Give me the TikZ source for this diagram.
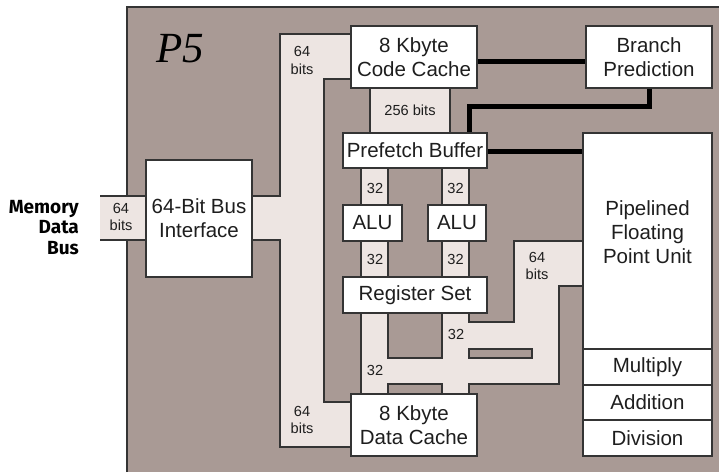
\documentclass[tikz,border=0pt]{standalone}
\usepackage{fontspec}
\setmainfont{Liberation Sans}
\newfontfamily\pfivefont{Liberation Serif}
\newfontfamily\memfont{Fira Sans}
\definecolor{bgdark}{RGB}{169,154,149}
\definecolor{buslight}{RGB}{237,229,226}
\definecolor{edge}{RGB}{52,52,52}
\definecolor{txt}{RGB}{30,30,30}
\begin{document}
\begin{tikzpicture}[x=1pt,y=-1pt,
  box/.style={draw=edge, fill=white, line width=1.3pt, inner sep=0pt, text=txt,
    align=center, font=\fontsize{20.5}{24}\selectfont},
  bord/.style={draw=edge, line width=1.2pt},
  thickline/.style={draw=black, line width=5pt},
  small/.style={inner sep=0pt, text=txt, align=center, font=\fontsize{14.6}{17.5}\selectfont}]
\useasboundingbox (0,0) rectangle (719,472);
% chip background
\fill[bgdark] (127,7) rectangle (719,472);
\draw[line width=1.5pt, draw=edge] (127,472) -- (127,7) -- (719,7);
% light bus areas
\fill[buslight] (100,196) rectangle (146,240);
\fill[buslight] (252,196) rectangle (280,240);
\fill[buslight] (280,34) rectangle (324,447);
\fill[buslight] (324,34) rectangle (351,79);
\fill[buslight] (324,402) rectangle (351,447);
\fill[buslight] (370,88) rectangle (450,133);
\fill[buslight] (361,168) rectangle (388,394);
\fill[buslight] (442,168) rectangle (469,394);
\fill[buslight] (361,358) rectangle (559,384);
\fill[buslight] (469,322) rectangle (559,384);
\fill[buslight] (514,241) rectangle (559,322);
\fill[buslight] (514,241) rectangle (583,286);
\filldraw[fill=bgdark, bord] (469,349) rectangle (532,358);
% bus borders
\draw[bord] (100,196) -- (146,196);
\draw[bord] (100,240) -- (146,240);
\draw[bord] (351,34) -- (280,34) -- (280,196) -- (252,196);
\draw[bord] (252,240) -- (280,240) -- (280,447) -- (351,447);
\draw[bord] (351,79) -- (324,79) -- (324,402) -- (351,402);
\draw[bord] (370,88) -- (370,133);
\draw[bord] (450,88) -- (450,133);
\draw[bord] (361,168) -- (361,205);
\draw[bord] (388,168) -- (388,205);
\draw[bord] (361,241) -- (361,277);
\draw[bord] (388,241) -- (388,277);
\draw[bord] (442,168) -- (442,205);
\draw[bord] (469,168) -- (469,205);
\draw[bord] (442,241) -- (442,277);
\draw[bord] (469,241) -- (469,277);
\draw[bord] (361,313) -- (361,394);
\draw[bord] (388,313) -- (388,358) -- (442,358) -- (442,313);
\draw[bord] (469,313) -- (469,322) -- (514,322) -- (514,241) -- (583,241);
\draw[bord] (583,286) -- (559,286) -- (559,384) -- (469,384) -- (469,394);
\draw[bord] (442,394) -- (442,384) -- (388,384) -- (388,394);
% boxes
\node[box, minimum width=106, minimum height=117] (bif) at (199,218.5) {64-Bit Bus\\Interface};
\node[box, minimum width=126, minimum height=62] (ccache) at (414,57) {8 Kbyte\\Code Cache};
\node[box, minimum width=126, minimum height=62] (branch) at (649,57) {Branch\\Prediction};
\node[box, minimum width=144, minimum height=35] (pfb) at (415,150.5) {Prefetch Buffer};
\node[box, minimum width=59, minimum height=36] (alua) at (372.5,223) {ALU};
\node[box, minimum width=58, minimum height=36] (alub) at (457,223) {ALU};
\node[box, minimum width=144, minimum height=36] (regs) at (415,295) {Register Set};
\node[box, minimum width=126, minimum height=62] (dcache) at (414,425) {8 Kbyte\\Data Cache};
\node[box, minimum width=129, minimum height=216] (fpu) at (647.5,241) {};
\node[box, draw=none, fill=none] (fpulbl) at (647.5,232) {Pipelined\\Floating\\Point Unit};
\node[box, minimum width=129, minimum height=36] (mul) at (647.5,367) {Multiply};
\node[box, minimum width=129, minimum height=35] (add) at (647.5,402.5) {Addition};
\node[box, minimum width=129, minimum height=36] (div) at (647.5,438) {Division};
% control lines
\draw[thickline] (ccache.east |- 0,61.5) -- (branch.west |- 0,61.5);
\draw[thickline] (branch.south) -- ++(0,18) -| ([xshift=54pt]pfb.north);
\draw[thickline] (pfb.east |- 0,151) -- (fpu.west |- 0,151);
% bus labels
\node[small] (l64a) at (302,60.5) {64\\bits};
\node[small] (l64b) at (302,420) {64\\bits};
\node[small] (l64m) at (121,217) {64\\bits};
\node[small] (l64f) at (537,266) {64\\bits};
\node[small] (l256) at (410,110.5) {256 bits};
\node[small] (l32a) at (375,188) {32};
\node[small] (l32b) at (455.5,188) {32};
\node[small] (l32c) at (375,259) {32};
\node[small] (l32d) at (455.5,259) {32};
\node[small] (l32e) at (456,334) {32};
\node[small] (l32f) at (375,370) {32};
% titles
\node[anchor=base west, inner sep=0pt, font=\pfivefont\itshape\fontsize{43}{43}\selectfont] (p5) at (156,62) {P5};
\node[anchor=east, align=right, inner sep=0pt, font=\memfont\bfseries\fontsize{19}{20.5}\selectfont] (mem) at (79,227.5) {Memory\\Data\\Bus};
\end{tikzpicture}
\end{document}
